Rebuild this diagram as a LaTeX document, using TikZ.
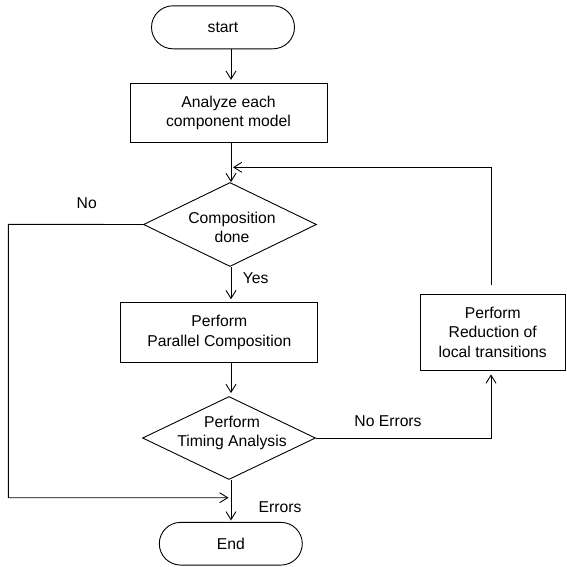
\documentclass[tikz,border=0pt]{standalone}
\usepackage{fontspec}
\setmainfont{Liberation Sans}
\usetikzlibrary{arrows.meta,shapes.geometric,shapes.misc,calc}
\begin{document}
\begin{tikzpicture}[x=1pt,y=-1pt,
  font=\fontsize{15.7}{19.5}\selectfont,
  line width=0.9pt,
  arr/.style={-{Straight Barb[length=8pt,width=10pt]}},
  box/.style={draw, rectangle, align=center, inner sep=0pt},
  term/.style={draw, rounded rectangle, inner sep=0pt},
  dia/.style={draw, diamond, inner sep=0pt}]
\useasboundingbox (0,0) rectangle (567,566);
\node[term, minimum width=143pt, minimum height=43pt] (start) at (223,27.3) {start};
\node[box, minimum width=197pt, minimum height=59.5pt] (ana) at (228.5,113) {Analyze each\\component model};
\node[dia, minimum width=173pt, minimum height=84pt,
  label={[align=center,yshift=-3pt,xshift=2pt]center:Composition\\done}] (d1) at (230,224.5) {};
\node[box, minimum width=197pt, minimum height=59.7pt] (par) at (219.3,332.5) {Perform\\Parallel Composition};
\node[dia, minimum width=173pt, minimum height=83pt,
  label={[align=center,yshift=5pt,xshift=3pt]center:Perform\\Timing Analysis}] (d2) at (229,438) {};
\node[box, minimum width=145.5pt, minimum height=76pt] (red) at (492.75,332) {Perform\\Reduction of\\local transitions};
\node[term, minimum width=143pt, minimum height=42.7pt] (end) at (230.8,543.7) {End};

\coordinate (col) at (231,0);
\coordinate (fb) at (231,167.3);
\coordinate (nl) at (8.3,224.3);
\coordinate (nb) at (231,497.7);
\coordinate (ne) at (491,438);

\draw[arr, shorten >=3pt] (start.south -| col) -- (ana.north -| col);
\draw[arr] (ana.south -| col) -- (d1.north -| col);
\draw[arr, shorten <=9pt, shorten >=2pt] (red.north -| ne) |- (fb);
\draw[arr, shorten >=2.5pt] (d1.west) -- (nl) |- (nb);
\draw[arr, shorten >=3pt] (d1.south -| col) -- (par.north -| col);
\draw[arr, shorten >=3pt] (par.south -| col) -- (d2.north -| col);
\draw[arr, shorten >=4pt] (d2.east) -- (ne) -- (red.south -| ne);
\draw[arr, shorten >=1.5pt] (d2.south -| col) -- (end.north -| col);

\node (lno) at (86.7,202.7) {No};
\node (lyes) at (255.7,278) {Yes};
\node (lnoerr) at (388,421.5) {No Errors};
\node (lerr) at (280,506.7) {Errors};
\end{tikzpicture}
\end{document}
